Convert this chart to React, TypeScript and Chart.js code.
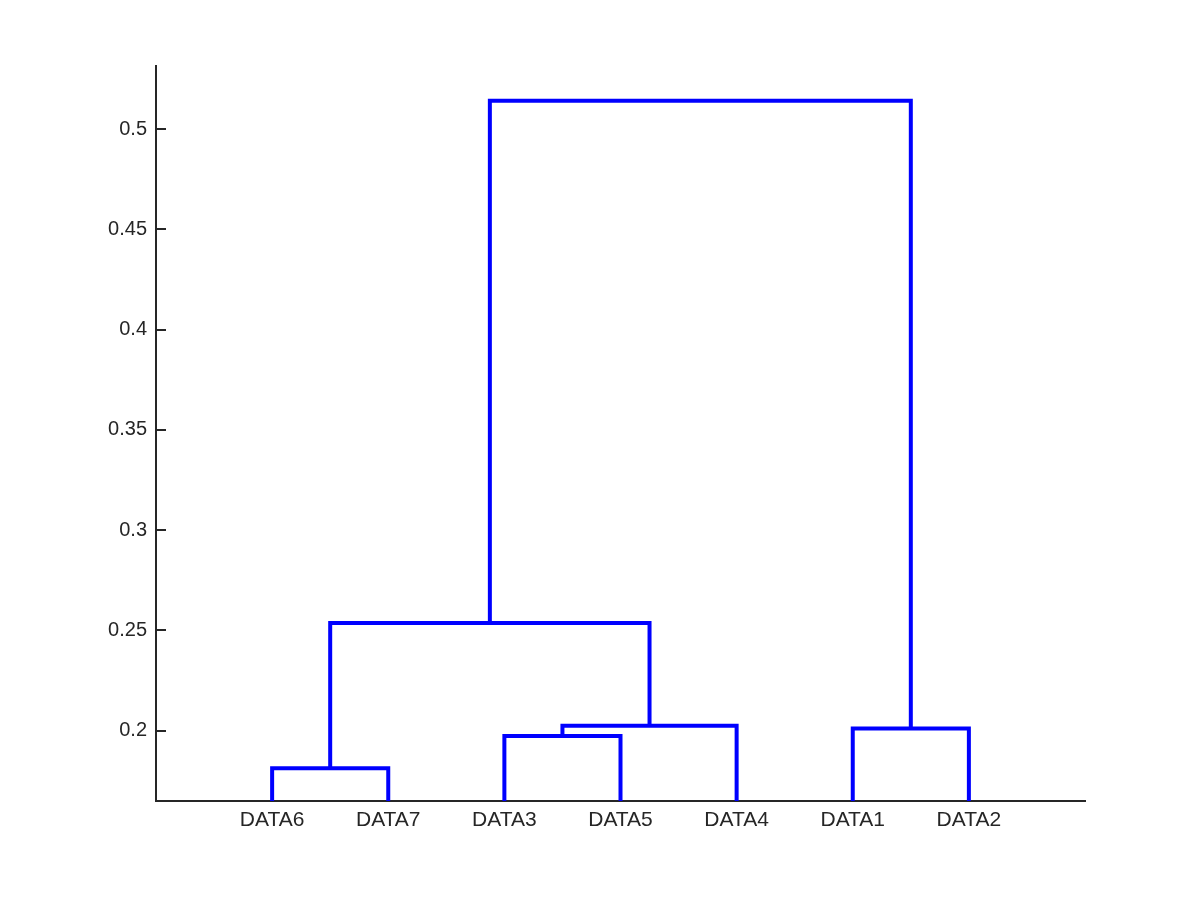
import React, { useEffect, useRef } from "react";
import { Chart, registerables } from "chart.js";

Chart.register(...registerables);

// Leaf names (original observation index -> label)
const leafLabels = ["DATA1", "DATA2", "DATA3", "DATA4", "DATA5", "DATA6", "DATA7"];
// Order in which leaves appear along the x axis (1-based observation ids)
const leafOrder = [6, 7, 3, 5, 4, 1, 2];
// Linkage (MATLAB Z style): clusters 1..7 are leaves, 8.. are merges in order
const mergeLeft = [6, 3, 1, 9, 8, 12];
const mergeRight = [7, 5, 2, 4, 11, 10];
const mergeHeight = [0.1813, 0.1974, 0.2012, 0.2025, 0.2537, 0.5141];
// Y axis tick values
const yTicks = [0.2, 0.25, 0.3, 0.35, 0.4, 0.45, 0.5];
const yMin = 0.165;
const yMax = 0.5314;
const xMin = 0;
const xMax = 8;

const AXIS_COLOR = "#262626";
const LINK_COLOR = "#0000ff";
const FONT = "'Liberation Sans', Arial, Helvetica, sans-serif";

function buildLinks() {
  const n = leafLabels.length;
  const xPos: Record<number, number> = {};
  const hPos: Record<number, number> = {};
  leafOrder.forEach((leaf, i) => {
    xPos[leaf] = i + 1;
    hPos[leaf] = 0;
  });
  const links: { x: number; y: number }[][] = [];
  mergeLeft.forEach((l, k) => {
    const r = mergeRight[k];
    const h = mergeHeight[k];
    const id = n + 1 + k;
    links.push([
      { x: xPos[l], y: hPos[l] },
      { x: xPos[l], y: h },
      { x: xPos[r], y: h },
      { x: xPos[r], y: hPos[r] },
    ]);
    xPos[id] = (xPos[l] + xPos[r]) / 2;
    hPos[id] = h;
  });
  return links;
}

const inwardTicks = {
  id: "inwardTicks",
  afterDraw(chart: any) {
    const { ctx, chartArea } = chart;
    const ys = chart.scales.y;
    ctx.save();
    ctx.strokeStyle = AXIS_COLOR;
    ctx.lineWidth = 2;
    ctx.beginPath();
    yTicks.forEach((v) => {
      const py = Math.round(ys.getPixelForValue(v));
      ctx.moveTo(chartArea.left, py);
      ctx.lineTo(chartArea.left + 10, py);
    });
    ctx.stroke();
    ctx.restore();
  },
};

export default function App() {
  const ref = useRef<HTMLCanvasElement | null>(null);

  useEffect(() => {
    if (!ref.current) return;
    const links = buildLinks();
    const chart = new Chart(ref.current, {
      type: "scatter",
      data: {
        datasets: links.map((pts) => ({
          data: pts,
          showLine: true,
          borderColor: LINK_COLOR,
          backgroundColor: LINK_COLOR,
          borderWidth: 4,
          pointRadius: 0,
          pointHoverRadius: 0,
          tension: 0,
          borderJoinStyle: "miter" as const,
          borderCapStyle: "butt" as const,
          clip: 0,
        })),
      },
      plugins: [inwardTicks],
      options: {
        animation: false,
        responsive: false,
        devicePixelRatio: 1,
        events: [],
        layout: { padding: { left: 0, top: 66, right: 115, bottom: 59 } },
        plugins: {
          legend: { display: false },
          tooltip: { enabled: false },
        },
        scales: {
          x: {
            type: "linear",
            min: xMin,
            max: xMax,
            afterBuildTicks: (scale: any) => {
              scale.ticks = leafOrder.map((_, i) => ({ value: i + 1 }));
            },
            afterFit: (scale: any) => {
              scale.height = 40;
            },
            grid: { display: false, drawTicks: false },
            border: { display: true, color: AXIS_COLOR, width: 2 },
            ticks: {
              autoSkip: false,
              maxRotation: 0,
              padding: 7,
              color: AXIS_COLOR,
              font: { family: FONT, size: 21 },
              callback: (v: any) => {
                const idx = Math.round(Number(v)) - 1;
                return idx >= 0 && idx < leafOrder.length ? leafLabels[leafOrder[idx] - 1] : "";
              },
            },
          },
          y: {
            type: "linear",
            min: yMin,
            max: yMax,
            afterBuildTicks: (scale: any) => {
              scale.ticks = yTicks.map((v) => ({ value: v }));
            },
            afterFit: (scale: any) => {
              scale.width = 156;
            },
            grid: { display: false, drawTicks: false },
            border: { display: true, color: AXIS_COLOR, width: 2 },
            ticks: {
              padding: 9,
              color: AXIS_COLOR,
              font: { family: FONT, size: 20 },
              callback: (v: any) => String(Number(Number(v).toFixed(2))),
            },
          },
        },
      },
    });
    return () => chart.destroy();
  }, []);

  return (
    <div style={{ position: "absolute", left: 0, top: 0, width: 1200, height: 900, background: "#fff" }}>
      <canvas ref={ref} width={1200} height={900} style={{ width: 1200, height: 900, display: "block" }} />
    </div>
  );
}
